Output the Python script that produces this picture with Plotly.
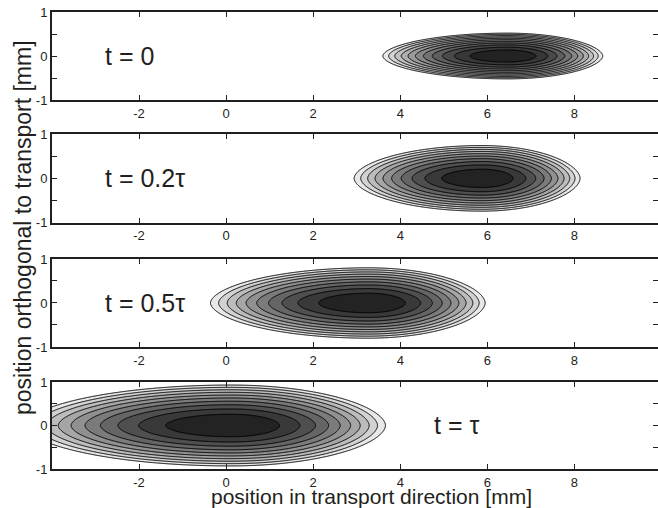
import numpy as np
import plotly.graph_objects as go

# ---- data ----
time_labels = ["t = 0", "t = 0.2τ", "t = 0.5τ", "t = τ"]
label_x = [-2.82, -2.82, -2.82, 4.72]
peak_x = [6.46, 5.88, 3.27, 0.11]          # position of maximum [mm]
halfwidth_left = [2.86, 2.94, 3.63, 4.74]  # outermost contour, left of peak [mm]
halfwidth_right = [2.19, 2.25, 2.68, 3.55] # outermost contour, right of peak [mm]
halfwidth_y = [0.52, 0.74, 0.80, 0.93]     # outermost contour, orthogonal [mm]
n_levels = [11, 10, 10, 10]
y_shape_exp = 1.8

x_ticks = [-2, 0, 2, 4, 6, 8]
y_ticks = [-1, -0.5, 0, 0.5, 1]
y_tick_text = ["-1", "", "0", "", "1"]
x_range = [-4, 9.92]
y_range = [-1, 1]

x = np.linspace(x_range[0], x_range[1], 900)
y = np.linspace(y_range[0], y_range[1], 260)
X, Y = np.meshgrid(x, y)

domains = [[0.8074, 1.0], [0.539, 0.733], [0.267, 0.4595], [0.0, 0.1904]]

fig = go.Figure()
font_family = "Liberation Sans, Arial, sans-serif"
axis_color = "#231f20"

for i in range(4):
    dx = X - peak_x[i]
    a = np.where(dx < 0, halfwidth_left[i], halfwidth_right[i])
    q = (dx / a) ** 2 + np.abs(Y / halfwidth_y[i]) ** y_shape_exp
    z = -q
    N = n_levels[i]
    # discrete colorscale: band outside -> white, N bands light -> dark
    grays = [255] + list(np.linspace(232, 35, N).round().astype(int))
    nb = N + 1
    cs = []
    for b, g in enumerate(grays):
        col = f"rgb({g},{g},{g})"
        cs.append([b / nb, col])
        cs.append([(b + 1) / nb, col])
    sfx = "" if i == 0 else str(i + 1)
    fig.add_trace(go.Contour(
        x=x, y=y, z=z,
        xaxis="x" + sfx, yaxis="y" + sfx,
        contours=dict(start=-1, end=-1 / N, size=1 / N, coloring="fill"),
        colorscale=cs, showscale=False,
        line=dict(color="#000000", width=1),
        hoverinfo="skip",
    ))
    common = dict(
        showline=True, linecolor=axis_color, linewidth=2, mirror="allticks",
        ticks="inside", ticklen=5, tickcolor=axis_color, tickwidth=1,
        showgrid=False, zeroline=False, automargin=False,
        ticklabeloverflow="allow",
        tickfont=dict(family=font_family, size=13, color=axis_color),
    )
    fig.layout["xaxis" + sfx] = dict(
        common, domain=[0, 1], range=x_range, anchor="y" + sfx,
        tickvals=x_ticks, ticktext=[str(v) for v in x_ticks],
    )
    fig.layout["yaxis" + sfx] = dict(
        common, domain=domains[i], range=y_range, anchor="x" + sfx,
        tickvals=y_ticks, ticktext=y_tick_text,
    )
    fig.add_annotation(
        x=label_x[i], y=0, xref="x" + sfx, yref="y" + sfx,
        text=time_labels[i], showarrow=False, xanchor="left", yanchor="middle",
        font=dict(family=font_family, size=25, color=axis_color),
    )

fig.add_annotation(
    x=(371 - 52) / 606, y=0, xref="paper", yref="paper", yshift=-27,
    text="position in transport direction [mm]",
    showarrow=False, xanchor="center", yanchor="middle",
    font=dict(family=font_family, size=21, color=axis_color),
)
fig.add_annotation(
    x=0.0, y=(469 - 228) / 457, xref="paper", yref="paper", xshift=-29,
    text="position orthogonal to transport [mm]", textangle=-90,
    showarrow=False, xanchor="center", yanchor="middle",
    font=dict(family=font_family, size=23, color=axis_color),
)

fig.update_layout(
    width=658, height=508,
    margin=dict(l=52, r=0, t=12, b=39),
    paper_bgcolor="white", plot_bgcolor="white",
    showlegend=False,
)

fig.write_html(
    "out.html",
    config={"displayModeBar": False},
    post_script="document.body.style.margin='0';document.body.style.overflow='hidden';",
)
